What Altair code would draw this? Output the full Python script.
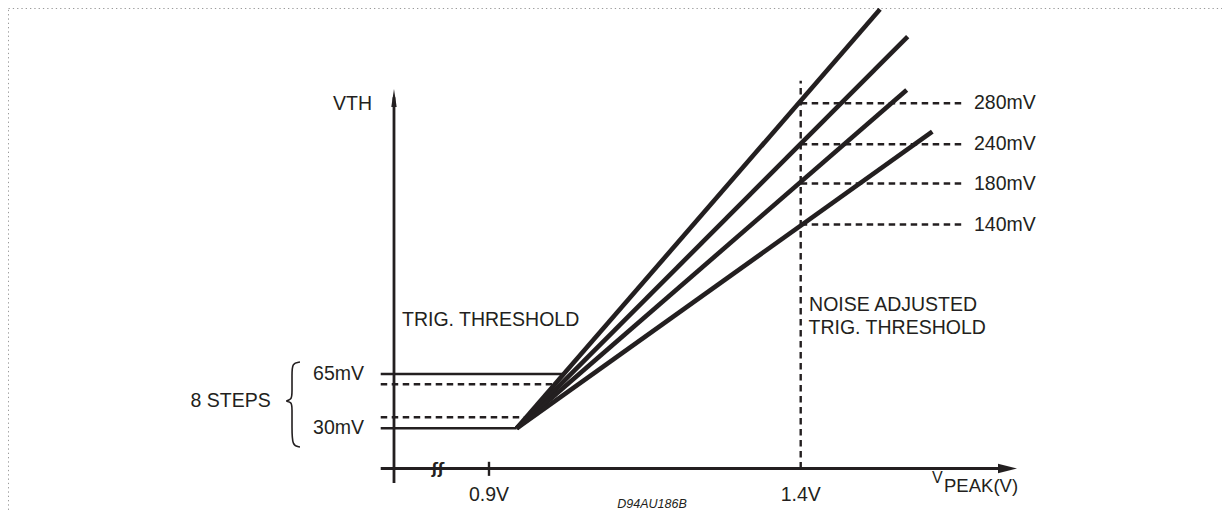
import altair as alt
import pandas as pd

INK = "#231f20"
FONT = "Liberation Sans"

# ---- scales: x in volts (linear), y in millivolts (schematic, piecewise) ----
x_dom = [0.9, 1.4]
x_rng = [481.0, 792.7]
y_dom = [0, 30, 35, 60, 65, 140, 180, 240, 280]
y_rng = [460.5, 420.3, 409.3, 376.3, 366.0, 216.5, 175.5, 136.3, 95.3]

# ---- data ----
thresholds_mv = [280, 240, 180, 140]
threshold_labels = ["280mV", "240mV", "180mV", "140mV"]
noise_v = 1.4
fan_start_v = 0.9444
fan_start_mv = 30
fan_end_v = [1.5272, 1.5716, 1.5700, 1.6111]
fan_end_mv = [371.7, 345.0, 293.0, 252.3]

step_mv = [65, 30]
step_labels = ["65mV", "30mV"]
step_end_v = [1.018, 0.9444]
sub_step_mv = [60, 35]
sub_step_end_v = [1.001, 0.956]
line_start_v = 0.7263

xaxis_v = [0.7263, 1.72]
yaxis_v = 0.7476
yaxis_mv = [-10.8, 286]
tick_v = [0.9, 1.4]
tick_labels = ["0.9V", "1.4V"]
label_mv = -20
thr_end_v = 1.6583
thr_label_v = 1.678
noise_top_mv = 302

brace_v = [0.5968, 0.5840, 0.5840, 0.5840, 0.5840, 0.5712, 0.5840, 0.5840, 0.5840, 0.5840, 0.5968]
brace_mv = [71.0, 70.5, 64.5, 54.2, 48.1, 47.3, 46.6, 42.0, 30.6, 16.8, 16.1]

X = alt.X("x:Q", scale=alt.Scale(domain=x_dom, range=x_rng, zero=False, nice=False), axis=None)
Y = alt.Y("y:Q", scale=alt.Scale(domain=y_dom, range=y_rng, zero=False, nice=False), axis=None)

def rules(rows):
    return pd.DataFrame(rows, columns=["x", "y", "x2", "y2"])

solid_thin = rules([[line_start_v, m, e, m] for m, e in zip(step_mv, step_end_v)])
dashed_steps = rules([[line_start_v, m, e, m] for m, e in zip(sub_step_mv, sub_step_end_v)])
dashed_thr = rules([[noise_v, m, thr_end_v, m] for m in thresholds_mv] +
                   [[noise_v, 0, noise_v, noise_top_mv]])
fan = rules([[fan_start_v, fan_start_mv, v, m] for v, m in zip(fan_end_v, fan_end_mv)])
axes = rules([[xaxis_v[0], 0, xaxis_v[1], 0], [yaxis_v, yaxis_mv[0], yaxis_v, yaxis_mv[1]]])
ticks = rules([[tick_v[0], 5.0, tick_v[0], -5.5]])

def rule_layer(df, width, dash=None):
    kw = dict(color=INK, strokeWidth=width)
    if dash:
        kw["strokeDash"] = dash
    return alt.Chart(df).mark_rule(**kw).encode(x=X, y=Y, x2="x2:Q", y2="y2:Q")

layers = [
    rule_layer(solid_thin, 2.6),
    rule_layer(dashed_steps, 2.4, [6.5, 4.5]),
    rule_layer(dashed_thr, 2.4, [6.5, 4.5]),
    rule_layer(axes, 2.8),
    rule_layer(ticks, 2.4),
    rule_layer(fan, 4.6),
]

# arrowheads
arrow_up = pd.DataFrame({"x": [yaxis_v], "y": [285.2]})
arrow_right = pd.DataFrame({"x": [1.7317], "y": [0]})
layers.append(alt.Chart(arrow_up).mark_point(shape="M0,-1L-0.3,1L0.3,1Z", size=324, filled=True,
                                             color=INK, opacity=1, strokeWidth=0).encode(x=X, y=Y))
layers.append(alt.Chart(arrow_right).mark_point(shape="M1,0L-1,-0.5L-1,0.5Z", size=361, filled=True,
                                                color=INK, opacity=1, strokeWidth=0).encode(x=X, y=Y))

# brace
brace = pd.DataFrame({"x": brace_v, "y": brace_mv, "o": list(range(len(brace_v)))})
layers.append(alt.Chart(brace).mark_line(color=INK, strokeWidth=1.6, interpolate="basis")
              .encode(x=X, y=Y, order="o:Q"))

# axis break marks
brk = pd.DataFrame({"x": [0.8182], "y": [0], "t": ["ʃʃ"]})
layers.append(alt.Chart(brk).mark_text(font="DejaVu Sans", fontSize=15, fontWeight="bold", color=INK,
                                       baseline="middle", align="center").encode(x=X, y=Y, text="t:N"))

def text_layer(df, align, size=19.5, **kw):
    return alt.Chart(df).mark_text(font=FONT, fontSize=size, color=INK, align=align,
                                   baseline="middle", **kw).encode(x=X, y=Y, text="t:N")

right_texts = pd.DataFrame({
    "x": [0.7123, 0.6995, 0.6995, 0.5498],
    "y": [279, 65, 30, 47],
    "t": ["VTH"] + step_labels + ["8 STEPS"],
})
left_texts = pd.DataFrame({
    "x": [0.7604, 1.4135, 1.4125] + [thr_label_v] * 4,
    "y": [92.3, 99.6, 87.9] + thresholds_mv,
    "t": ["TRIG. THRESHOLD", "NOISE ADJUSTED", "TRIG. THRESHOLD"] + threshold_labels,
})
center_texts = pd.DataFrame({"x": tick_v, "y": [label_mv, label_mv], "t": tick_labels})
vpeak_v = pd.DataFrame({"x": [1.6106], "y": [-7.0], "t": ["V"]})
vpeak_rest = pd.DataFrame({"x": [1.6299], "y": [-13.0], "t": ["PEAK(V)"]})
code = pd.DataFrame({"x": [1.1615], "y": [-26.5], "t": ["D94AU186B"]})

layers += [
    text_layer(right_texts, "right"),
    text_layer(left_texts, "left"),
    text_layer(center_texts, "center"),
    text_layer(vpeak_v, "left", 16),
    text_layer(vpeak_rest, "left", 18.5),
    text_layer(code, "center", 12.5, fontStyle="italic"),
]

chart = (
    alt.layer(*layers)
    .properties(width=1214, height=503, autosize=alt.AutoSizeParams(type="none"), padding=0)
    .configure_view(stroke="#9a9a9a", strokeWidth=1, strokeDash=[1.3, 3])
)

chart.save("out.html", embed_options={"renderer": "svg", "actions": False})
